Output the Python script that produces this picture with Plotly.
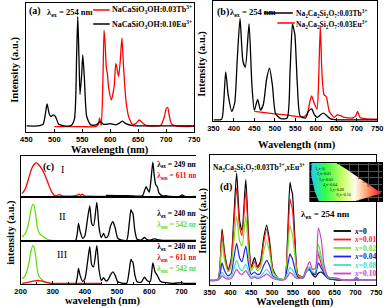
import plotly.graph_objects as go

W, H = 390, 308
def fx(x): return x / W
def fy(y): return 1 - y / H

# ---------------- data ----------------
# (a)
WL_A_BLK = [450, 470, 480, 484, 487, 491, 494, 498, 502, 508, 515, 530, 536, 540, 542, 544, 546, 549, 551, 554, 558, 565, 575, 582, 588, 595, 600, 610, 617, 622, 628, 640, 660, 750]
I_A_BLK = [4.7, 4.7, 6, 14, 21.7, 14, 12, 13.2, 12, 6, 5, 5, 10, 60, 89.4, 60, 29, 45, 59.7, 40, 12, 5.5, 5.5, 8, 6, 6, 6.5, 5.5, 7, 8.5, 6.5, 5, 4.7, 4.7]
WL_A_RED = [500, 550, 575, 579, 581, 584, 587, 589, 591, 593, 595, 597, 602, 607, 610, 612, 615, 618, 621, 624, 628, 633, 640, 646, 652, 658, 665, 690, 697, 700, 703, 706, 710, 720, 750]
I_A_RED = [4.1, 4.1, 4.3, 6, 11, 5, 40, 79, 68, 50, 45, 35, 25, 35, 53, 50, 43, 55, 73, 50, 25, 12, 6, 6.5, 9.3, 7, 5, 5, 12, 18, 19, 12, 6, 4.5, 4.3]

# (b)
WL_TB = [350, 370, 375, 380, 386, 395, 402, 408, 415, 422, 428, 437, 444, 450, 458, 465, 472, 480, 487, 494, 502, 515, 530, 537, 543, 546, 549, 555, 562, 575, 582, 590, 597, 604, 611, 618, 625, 635, 652, 670, 695, 702, 710, 750]
I_B_TB = [1, 1.5, 15, 41, 22, 8, 15, 50, 85.5, 50, 45, 81, 30, 9, 18, 9, 14, 35, 44, 30, 6, 2, 2.5, 40, 81, 77, 72, 30, 4, 2.5, 8, 10, 5, 3, 5, 6.5, 5, 2, 1, 1, 1, 1, 1, 1]
WL_B_EU = [450, 500, 540, 570, 579, 585, 590, 596, 603, 607, 611, 615, 620, 626, 633, 645, 652, 660, 670, 690, 697, 702, 708, 720, 750]
I_B_EU = [8, 6, 4.5, 3.5, 6, 15, 21, 15, 10, 35, 79, 40, 22, 20, 8, 3, 5, 4.5, 3, 2.5, 4, 8, 3, 2, 1.5]

# (c)
WL_C1_EX = [205, 215, 225, 235, 245, 250, 255, 265, 275, 285, 295, 305, 312, 320, 330, 350, 365, 375, 382, 387, 392, 398, 410, 450, 520]
I_C1_EX = [8, 20, 45, 70, 82, 83, 80, 70, 55, 35, 15, 4, 3, 6, 3, 2, 2.5, 4, 7, 4, 7, 3, 2, 1.5, 1.5]
WL_C1_EM = [465, 500, 550, 575, 580, 585, 590, 595, 600, 605, 611, 615, 620, 625, 630, 640, 652, 665, 695, 702, 710, 745]
I_C1_EM = [4, 3.5, 2.5, 2, 4, 15, 25, 18, 12, 40, 85, 55, 30, 25, 10, 3, 3, 1.5, 1.5, 5, 1.5, 1.5]
WL_C_GEX = [205, 215, 225, 232, 238, 242, 247, 252, 258, 265, 272, 280, 290, 300]
I_C2_GEX = [9, 17, 40, 70, 83, 80, 60, 32, 18, 13, 9, 5, 2, 1.5]
I_C3_GEX = [12, 20, 45, 75, 89, 86, 65, 33, 17, 11, 6, 3, 1.5, 1]
WL_C3_REX = [205, 220, 235, 250, 258, 270, 285, 300, 330, 400, 450]
I_C3_REX = [1.5, 3, 6, 8, 8, 6, 3, 1.5, 1.5, 1.5, 1.5]
WL_C_EM = [372, 376, 380, 385, 393, 400, 408, 415, 421, 427, 437, 444, 451, 458, 465, 472, 480, 487, 494, 502, 515, 530, 537, 543, 546, 549, 555, 562, 575, 585, 593, 603, 611, 618, 625, 635, 652, 675, 700, 705, 712, 745]
I_C2_EM = [1, 15, 40, 22, 6, 12, 50, 80, 40, 35, 88, 30, 8, 17, 7, 12, 35, 44, 30, 6, 2, 2, 35, 71, 66, 63, 25, 4, 2, 8, 3, 2, 4, 5, 3, 2, 1.5, 1.5, 1.5, 1.5, 1.5, 1.5]
I_C3_EM = [1, 14, 36, 20, 6, 12, 50, 87, 45, 40, 89, 32, 8, 15, 7, 10, 22, 28, 20, 5, 2, 2, 28, 57, 53, 51, 22, 5, 4, 16, 8, 6, 49, 28, 20, 6, 3, 1.5, 3, 2, 1.5, 1.5]

# (d) same wavelength grid as WL_TB
EU_LEVELS = ["0", "0.01", "0.02", "0.04", "0.08", "0.10"]
I_D_X000 = [3.5, 4, 15, 43, 25, 12, 20, 50, 86, 50, 42, 81, 35, 14, 21, 14, 18, 36, 46, 34, 12, 5, 4.5, 35, 79, 74, 70, 35, 8, 6, 12, 12, 8, 6, 9, 10, 8, 5, 4, 3.8, 3.8, 4, 3.8, 3.8]
I_D_X001 = [3.5, 4, 14, 40.5, 23, 11, 18, 44, 75, 45, 38, 72.5, 32, 13, 18, 13, 16, 33, 43, 31, 11, 5, 4.5, 30, 66, 62, 58, 30, 8, 6, 11, 13, 9, 8, 24, 16, 10, 5, 4.5, 3.8, 3.8, 4.5, 3.8, 3.8]
I_D_X002 = [3.5, 4, 12, 33, 19, 10, 15, 32, 53, 34, 30, 53, 24, 11, 15, 11, 13, 26, 34, 25, 10, 5, 4.5, 24, 46, 42, 39, 22, 7, 6, 12, 14, 10, 9, 31.5, 22, 12, 6, 5, 4, 4, 5, 4, 3.8]
I_D_X004 = [3.5, 4, 8, 17, 11, 7, 9, 20, 32, 21, 18, 30, 15, 8, 10, 8, 9, 15, 19, 15, 7, 4.5, 4.5, 14, 24, 22, 20, 12, 6, 5.5, 10, 12, 9, 8, 17, 13, 9, 5, 4.5, 4, 4, 5, 4, 3.8]
I_D_X008 = [3.5, 4, 6, 10, 7, 5.5, 6.5, 12, 19, 13, 11, 16, 10, 6, 7, 6, 6.5, 9.5, 12, 9.5, 6, 4.5, 4.5, 9, 13.6, 12.5, 11.5, 8, 5, 6, 10, 13.6, 10, 10, 26, 20, 11, 5.5, 5, 4, 4, 5.5, 4, 3.8]
I_D_X010 = [3.5, 4, 5, 7, 5.5, 4.5, 5, 8, 12, 9, 8, 11, 7.5, 5, 6, 5, 5.5, 7, 8.5, 7, 5, 4, 4, 6.5, 9.7, 9, 8.5, 6, 5, 6, 12, 18, 12, 13, 44, 35, 15, 6, 5.5, 4, 4, 6, 4, 3.8]
D_SERIES = [I_D_X000, I_D_X001, I_D_X002, I_D_X004, I_D_X008, I_D_X010]
D_COLORS = ["#000000", "#ff1a1a", "#7ddd22", "#2020ee", "#44ddc0", "#cc44cc"]

# CIE 1931 spectral locus (inset)
CIE_X = [0.1566, 0.1440, 0.1241, 0.0913, 0.0454, 0.0082, 0.0139, 0.0743, 0.1547, 0.2296, 0.3016, 0.3731, 0.4441, 0.5125, 0.5752, 0.6270, 0.6915, 0.7190, 0.7347]
CIE_Y = [0.0177, 0.0297, 0.0578, 0.1327, 0.2950, 0.5384, 0.7502, 0.8338, 0.8059, 0.7543, 0.6923, 0.6245, 0.5547, 0.4866, 0.4242, 0.3725, 0.3083, 0.2809, 0.2653]
CIE_LAB = ["1,x=0", "2,x=0.01", "3,x=0.02", "4,x=0.04", "5,x=0.08", "6,x=0.10"]
CIE_LAB_X = [0.05, 0.07, 0.09, 0.13, 0.20, 0.27]
CIE_LAB_Y = [0.63, 0.555, 0.465, 0.39, 0.315, 0.24]
CIE_PT = ["1", "2", "3", "4", "5", "6"]
CIE_PT_X = [0.38, 0.42, 0.46, 0.50, 0.55, 0.60]
CIE_PT_Y = [0.66, 0.61, 0.55, 0.49, 0.43, 0.37]

C_LABELS_X = 625

# ---------------- figure ----------------
fig = go.Figure()
RED = "#ff0000"
GREEN = "#66dd11"

def line(x, y, ax, color, width=1.3):
    fig.add_trace(go.Scatter(x=x, y=y, mode="lines", xaxis="x" + ax, yaxis="y" + ax,
                             line=dict(color=color, width=width, shape="spline", smoothing=0.6),
                             hoverinfo="skip", showlegend=False))

# (a)
line(WL_A_RED, I_A_RED, "", RED)
line(WL_A_BLK, I_A_BLK, "", "#000000")
# (b)
line(WL_B_EU, I_B_EU, "2", RED)
line(WL_TB, I_B_TB, "2", "#000000")
# (c)
line(WL_C1_EX, I_C1_EX, "3", RED)
line(WL_C1_EM, I_C1_EM, "3", "#000000")
line(WL_C_GEX, I_C2_GEX, "4", GREEN)
line(WL_C_EM, I_C2_EM, "4", "#000000")
line(WL_C_GEX, I_C3_GEX, "5", GREEN)
line(WL_C3_REX, I_C3_REX, "5", RED)
line(WL_C_EM, I_C3_EM, "5", "#000000")
# (d)
for ser, col in zip(D_SERIES, D_COLORS):
    line(WL_TB, ser, "6", col, 1.2)
# inset CIE
fig.add_trace(go.Scatter(x=CIE_X, y=CIE_Y, mode="lines", fill="toself", xaxis="x7", yaxis="y7",
                         line=dict(width=0, color="rgba(0,0,0,0)"),
                         fillgradient=dict(type="horizontal",
                                           colorscale=[[0, "#20c8ff"], [0.2, "#33ff44"], [0.45, "#ccff66"],
                                                       [0.62, "#ffffee"], [0.8, "#ff9966"], [1, "#ff1020"]]),
                         hoverinfo="skip", showlegend=False))
fig.add_trace(go.Scatter(x=CIE_LAB_X, y=CIE_LAB_Y, text=CIE_LAB, mode="text", textposition="middle right",
                         xaxis="x7", yaxis="y7", textfont=dict(size=4, color="#000", family="Liberation Serif"),
                         hoverinfo="skip", showlegend=False))
fig.add_trace(go.Scatter(x=CIE_PT_X, y=CIE_PT_Y, text=CIE_PT, mode="text",
                         xaxis="x7", yaxis="y7", textfont=dict(size=4.5, color="#000", family="Liberation Serif"),
                         hoverinfo="skip", showlegend=False))

# (c) right-hand labels, clipped at the panel edge like the reference
def ctext(ax, y, txt, color):
    fig.add_trace(go.Scatter(x=[C_LABELS_X], y=[y], text=[txt], mode="text", textposition="middle right",
                             xaxis="x" + ax, yaxis="y" + ax, cliponaxis=True,
                             textfont=dict(size=7.5, color=color, family="Liberation Serif", weight="bold"),
                             hoverinfo="skip", showlegend=False))
ctext("3", 78, "λ<sub>ex</sub> = 249 nm", "#000")
ctext("3", 50, "λ<sub>em</sub> = 611 nm", RED)
ctext("4", 60, "λ<sub>ex</sub> = 240 nm", "#000")
ctext("4", 36, "λ<sub>em</sub> = 542 nm", GREEN)
ctext("5", 85, "λ<sub>ex</sub> = 240 nm", "#000")
ctext("5", 60, "λ<sub>em</sub> = 611 nm", RED)
ctext("5", 34, "λ<sub>em</sub> = 542 nm", GREEN)

TICKF = dict(family="Liberation Sans", size=7.5, color="#000", weight="bold")

def xax(dom, rng, dtick, labels=True, anchor="y"):
    return dict(domain=dom, range=rng, dtick=dtick, tick0=0, showline=True, mirror=True, linecolor="#000",
                linewidth=1.2, ticks="inside" if labels else "", ticklen=3, tickwidth=1, tickcolor="#000",
                showticklabels=labels, tickfont=TICKF, showgrid=False, zeroline=False, anchor=anchor,
                minor=dict(ticks="inside" if labels else "", ticklen=2, tickcolor="#000", nticks=2))

def yax(dom, anchor, mirror=True):
    return dict(domain=dom, range=[0, 100], showline=True, mirror=mirror, linecolor="#000", linewidth=1.2,
                ticks="", showticklabels=False, showgrid=False, zeroline=False, anchor=anchor)

layout = dict(
    width=W, height=H, margin=dict(l=0, r=0, t=0, b=0),
    paper_bgcolor="white", plot_bgcolor="rgba(0,0,0,0)", showlegend=False,
    xaxis=xax([fx(21), fx(194)], [450, 750], 50, anchor="y"),
    yaxis=yax([fy(132), fy(3)], "x"),
    xaxis2=xax([fx(214), fx(383)], [350, 750], 50, anchor="y2"),
    yaxis2=yax([fy(121), fy(1)], "x2"),
    xaxis3=xax([fx(15), fx(196)], [200, 745], 100, labels=False, anchor="y3"),
    yaxis3=yax([fy(197), fy(156)], "x3", mirror=False),
    xaxis4=xax([fx(15), fx(196)], [200, 745], 100, labels=False, anchor="y4"),
    yaxis4=yax([fy(241), fy(197)], "x4", mirror=False),
    xaxis5=xax([fx(15), fx(196)], [200, 745], 100, anchor="y5"),
    yaxis5=yax([fy(284), fy(241)], "x5", mirror=False),
    xaxis6=xax([fx(210), fx(382)], [350, 750], 50, anchor="y6"),
    yaxis6=yax([fy(285), fy(155)], "x6"),
    xaxis7=dict(domain=[fx(314), fx(388)], range=[0, 0.74], showticklabels=False, ticks="", showline=False,
                zeroline=False, showgrid=True, gridcolor="#555555", gridwidth=0.5, dtick=0.1, anchor="y7"),
    yaxis7=dict(domain=[fy(201), fy(163)], range=[0.15, 0.72], showticklabels=False, ticks="", showline=False,
                zeroline=False, showgrid=True, gridcolor="#555555", gridwidth=0.5, dtick=0.1, anchor="x7"),
)
fig.update_layout(**layout)

shapes = [dict(type="rect", xref="paper", yref="paper", x0=fx(313), x1=fx(389), y0=fy(202), y1=fy(162),
               fillcolor="#000", line=dict(width=0), layer="below")]

def lseg(x0, x1, y, color, w=1.5):
    shapes.append(dict(type="line", xref="paper", yref="paper", x0=fx(x0), x1=fx(x1), y0=fy(y), y1=fy(y),
                       line=dict(color=color, width=w)))
# legend lines
lseg(90, 107, 10, RED)
lseg(90, 107, 24, "#000")
lseg(266, 296, 13, "#000")
lseg(280, 298, 23, RED)
LEG_Y = [231, 239.5, 248, 256.5, 265, 273.5]
for yy, col in zip(LEG_Y, D_COLORS):
    lseg(338, 356, yy, col, 1.8)
fig.update_layout(shapes=shapes)

anns = []
def ann(x, y, txt, size=9, color="#000", xanchor="left", bold=True, angle=0, fam="Liberation Serif"):
    anns.append(dict(x=fx(x), y=fy(y), xref="paper", yref="paper", text=txt, showarrow=False,
                     xanchor=xanchor, yanchor="middle", textangle=angle,
                     font=dict(family=fam, size=size, color=color, weight="bold" if bold else "normal")))

# axis titles
ann(107, 150, "Wavelength (nm)", 10.5, xanchor="center")
ann(9, 70, "Intensity (a.u.)", 10.5, xanchor="center", angle=-90)
ann(300, 145, "Wavelength (nm)", 10.5, xanchor="center")
ann(202, 64, "Intensity (a.u.)", 10.5, xanchor="center", angle=-90)
ann(100, 301, "wavelength (nm)", 10.5, xanchor="center")
ann(5, 232, "intensity (a.u.)", 10.5, xanchor="center", angle=-90)
ann(298, 302, "Wavelength (nm)", 10.5, xanchor="center")
ann(203, 221, "Intensity (a.u.)", 10.5, xanchor="center", angle=-90)

# (a)
ann(22, 11, "(a)", 10)
ann(40, 12, "λ<sub>ex</sub> = 254 nm", 8.5)
ann(107, 10, "NaCaSiO<sub>3</sub>OH:0.03Tb<sup>3+</sup>", 8)
ann(107, 24, "NaCaSiO<sub>3</sub>OH:0.10Eu<sup>3+</sup>", 8)
# (b)
ann(216, 12, "(b)", 10)
ann(229, 12, "λ<sub>ex</sub> = 254 nm", 8.5)
ann(297, 13, "Na<sub>2</sub>Ca<sub>2</sub>Si<sub>2</sub>O<sub>7</sub>:0.03Tb<sup>3+</sup>", 7.5)
ann(297, 24, "Na<sub>2</sub>Ca<sub>2</sub>Si<sub>2</sub>O<sub>7</sub>:0.03Eu<sup>3+</sup>", 7.5)
# (c)
ann(36, 167, "(c)", 10)
ann(58, 169, "I", 10, xanchor="center", bold=False)
ann(58, 216, "II", 10, xanchor="center", bold=False)
ann(58, 254, "III", 10, xanchor="center", bold=False)
# (d)
ann(211, 167, "Na<sub>2</sub>Ca<sub>2</sub>Si<sub>2</sub>O<sub>7</sub>:0.03Tb<sup>3+</sup>,<i>x</i>Eu<sup>3+</sup>", 7.5)
ann(219, 187, "(d)", 10)
ann(302, 214, "λ<sub>ex</sub> = 254 nm", 9)
for yy, col, lev in zip(LEG_Y, D_COLORS, EU_LEVELS):
    ann(357, yy, "<i>x</i>=" + lev, 7.5, color=col if col != "#000000" else "#000")
fig.update_layout(annotations=anns)

fig.write_html("out.html", config={"displayModeBar": False},
               post_script="document.body.style.margin='0';document.body.style.overflow='hidden';")
